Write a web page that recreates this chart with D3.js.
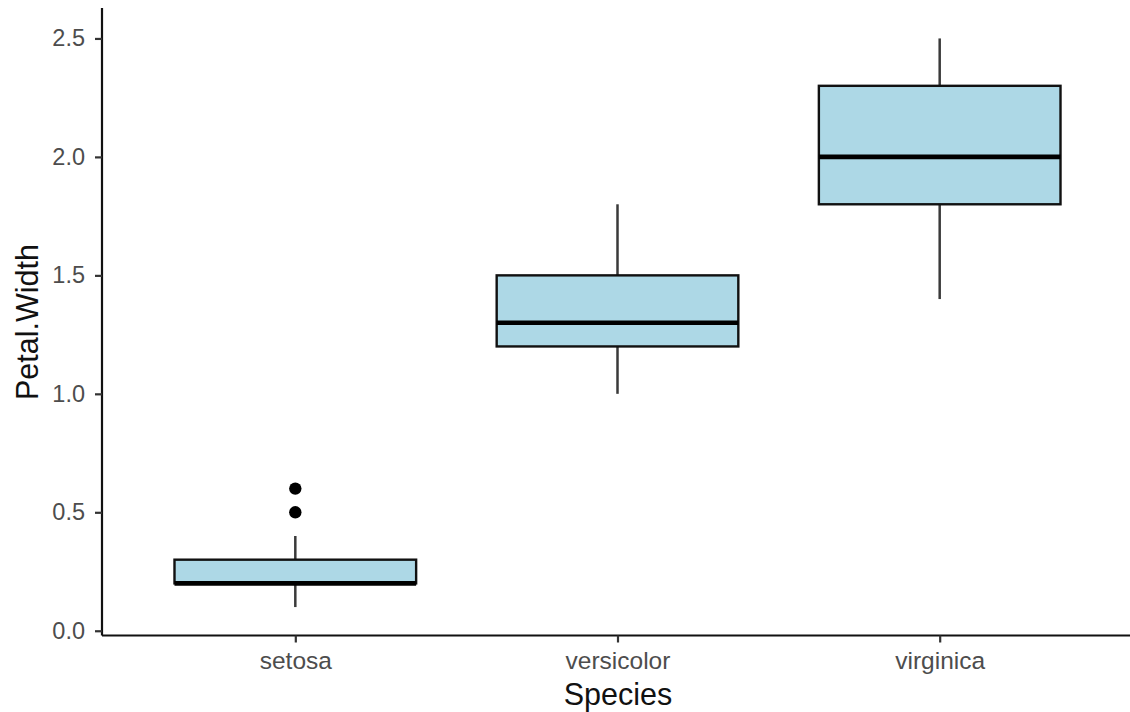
<!DOCTYPE html>
<html><head><meta charset="utf-8">
<script src="https://cdn.jsdelivr.net/npm/d3@7"></script>
<style>body{margin:0;background:#fff}svg{display:block}text{font-family:"Liberation Sans",Arial,sans-serif}</style>
</head><body><svg id="c" width="1130" height="712"></svg>
<script>
const categories = ["setosa","versicolor","virginica"];
const whiskerLow = [0.1, 1.0, 1.4];
const q1 = [0.2, 1.2, 1.8];
const median = [0.2, 1.3, 2.0];
const q3 = [0.3, 1.5, 2.3];
const whiskerHigh = [0.4, 1.8, 2.5];
const outliers = [[0.5, 0.6], [], []];
const yTicks = [0.0, 0.5, 1.0, 1.5, 2.0, 2.5];

(function(){
const svg = d3.select("#c");
const mLeft = 102, mRight = 1133, mTop = 10, mBottom = 635.5;
const x = d3.scalePoint().domain(categories).range([mLeft, mRight]).padding(0.6);
const step = x.step();
const y = d3.scaleLinear().domain([-0.02, 2.62]).range([mBottom, mTop]);
const bw = step * 0.75;

const data = categories.map((c,i)=>({c, lo:whiskerLow[i], q1:q1[i], med:median[i], q3:q3[i], hi:whiskerHigh[i], out:outliers[i]}));
const g = svg.append("g");
const box = g.selectAll("g.box").data(data).enter().append("g");
box.append("line").attr("x1",d=>x(d.c)).attr("x2",d=>x(d.c)).attr("y1",d=>y(d.q3)).attr("y2",d=>y(d.hi)).attr("stroke","#3a3a3a").attr("stroke-width",2.5);
box.append("line").attr("x1",d=>x(d.c)).attr("x2",d=>x(d.c)).attr("y1",d=>y(d.q1)).attr("y2",d=>y(d.lo)).attr("stroke","#3a3a3a").attr("stroke-width",2.5);
box.append("rect").attr("x",d=>x(d.c)-bw/2).attr("width",bw).attr("y",d=>y(d.q3)).attr("height",d=>y(d.q1)-y(d.q3))
  .attr("fill","#add8e6").attr("stroke","#111").attr("stroke-width",2.4);
box.append("line").attr("x1",d=>x(d.c)-bw/2).attr("x2",d=>x(d.c)+bw/2).attr("y1",d=>y(d.med)).attr("y2",d=>y(d.med)).attr("stroke","#000").attr("stroke-width",4.6);
box.selectAll("circle").data(d=>d.out.map(v=>({c:d.c,v}))).enter().append("circle")
  .attr("cx",d=>x(d.c)).attr("cy",d=>y(d.v)).attr("r",6.2).attr("fill","#000");

const ya = svg.append("g").attr("transform",`translate(${mLeft},0)`)
  .call(d3.axisLeft(y).tickValues(yTicks).tickFormat(d3.format(".1f")).tickSize(7).tickPadding(10));
const xa = svg.append("g").attr("transform",`translate(0,${mBottom})`)
  .call(d3.axisBottom(x).tickSize(7).tickPadding(9));
[ya,xa].forEach(a=>{
  a.select(".domain").attr("stroke","#111").attr("stroke-width",2.2);
  a.selectAll(".tick line").attr("stroke","#333").attr("stroke-width",2.2);
  a.selectAll(".tick text").attr("fill","#4d4d4d").style("font-size","23.5px");
});
xa.selectAll(".tick text").style("font-size","24.5px");
ya.select(".domain").attr("d",`M0,${mTop-2}V${mBottom}`);
xa.select(".domain").attr("d",`M${mLeft},0H1130`);

svg.append("text").attr("x",618).attr("y",705).attr("text-anchor","middle").style("font-size","30.5px").attr("fill","#111").text("Species");
svg.append("text").attr("transform","translate(38,322) rotate(-90)").attr("text-anchor","middle").style("font-size","30.5px").attr("fill","#111").text("Petal.Width");
})();
</script></body></html>
